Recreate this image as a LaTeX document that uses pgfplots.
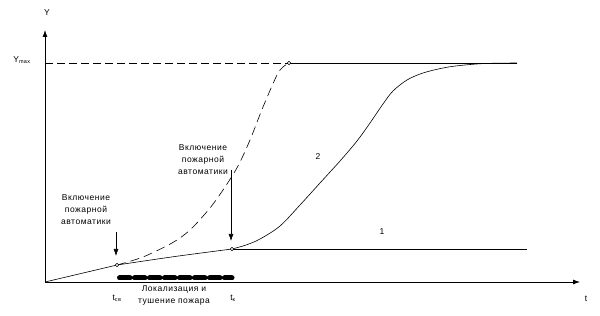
\documentclass[border=0pt]{standalone}
\usepackage{fontspec}
\setmainfont[LetterSpace=6]{Liberation Sans}
\usepackage{pgfplots}
\pgfplotsset{compat=1.18}
\usetikzlibrary{arrows.meta}
\begin{document}
\begin{tikzpicture}
\begin{axis}[
  scale only axis, width=600pt, height=316pt,
  xmin=0, xmax=600, ymin=0, ymax=316,
  axis lines=none, clip=false,
  font=\fontsize{8.5}{12}\selectfont,
]
\path (axis cs:0,0) rectangle (axis cs:600,316);
% axes
\draw[line width=0.8pt,-{Latex[length=7pt,width=5pt]}] (axis cs:45,34) -- (axis cs:580,34);
\draw[line width=0.8pt,-{Latex[length=7pt,width=5pt]}] (axis cs:45,34) -- (axis cs:45,286);
% initial segment
\addplot[black, line width=0.6pt] coordinates {(45,34) (117,51)};
\addplot[black, line width=0.6pt, smooth] coordinates {(117,51) (175,59.5) (232,67)};
% curve 2
\addplot[black, line width=0.6pt, smooth, tension=0.55] coordinates {
 (232,67) (246,71) (260,77) (280,90) (300,111) (320,133) (340,155) (357,175) (370,193) (383,212) (393,225) (407,236) (423,243) (443,248) (460,250.5) (485,252.5) (517,253)};
% line 1
\addplot[black, line width=0.6pt] coordinates {(232,67) (527,67)};
% Ymax
\addplot[black, line width=0.6pt, dash pattern=on 8pt off 4pt] coordinates {(45,253) (289,253)};
\addplot[black, line width=0.6pt] coordinates {(289,253) (517,253)};
% dashed curve
\addplot[black, line width=0.6pt, smooth, tension=0.5, dash pattern=on 9pt off 5pt] coordinates {
 (117,51) (143,59) (172,73) (190,86) (210,108) (225,129) (238,150) (250,176) (263,209) (277,241) (283,249) (289,253)};
% bar
\addplot[black, line width=5pt, line cap=round, dash pattern=on 10.5pt off 4.5pt] coordinates {(119.5,38) (232,38)};
% circles
\addplot[only marks, mark=*, mark size=1.7pt, mark options={fill=white, draw=black, line width=0.5pt}] coordinates {(117,51) (232,67) (289,253)};
% arrows
\draw[line width=0.6pt,-{Latex[length=7pt,width=5pt]}] (axis cs:116,84) -- (axis cs:116,60);
\draw[line width=0.6pt,-{Latex[length=7pt,width=5pt]}] (axis cs:231,146) -- (axis cs:231,75);
% labels
\node[align=center] at (axis cs:86,106) {Включение\\пожарной\\автоматики};
\node[align=center] at (axis cs:203,156) {Включение\\пожарной\\автоматики};
\node at (axis cs:47,303) {Y};
\node at (axis cs:586,17) {t};
\node at (axis cs:22,256) {Y\textsubscript{\fontsize{5.5}{5.5}\selectfont max}};
\node at (axis cs:117,18) {t\textsubscript{\fontsize{5.5}{5.5}\selectfont св}};
\node at (axis cs:233,18) {t\textsubscript{\fontsize{5.5}{5.5}\selectfont к}};
\node[align=center] at (axis cs:174,21) {Локализация и\\тушение пожара};
\node at (axis cs:318,159) {2};
\node at (axis cs:382,84) {1};
\end{axis}
\end{tikzpicture}
\end{document}
